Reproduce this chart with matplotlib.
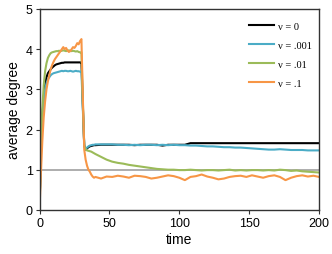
import matplotlib
matplotlib.use('Agg')
import matplotlib.pyplot as plt

# time axis: every step up to 40, then every 4 steps
t = list(range(0, 41)) + list(range(44, 201, 4))

nu0 = [0, 1.5, 2.3, 2.8, 3.1, 3.3, 3.4, 3.45, 3.5, 3.54, 3.57, 3.6, 3.62, 3.63, 3.64,
       3.65, 3.66, 3.66, 3.67, 3.67, 3.67,
       3.67, 3.67, 3.67, 3.67, 3.67, 3.67, 3.67, 3.67, 3.67, 3.67,
       2.6, 1.6, 1.5, 1.53, 1.56, 1.58, 1.59, 1.6, 1.61, 1.61,
       1.62, 1.62, 1.62, 1.62, 1.62, 1.62, 1.61, 1.62, 1.62, 1.62, 1.62, 1.6, 1.62, 1.62,
       1.62, 1.62,
       1.66, 1.66, 1.66, 1.66, 1.66, 1.66, 1.66, 1.66, 1.66, 1.66, 1.66, 1.66,
       1.66, 1.66, 1.66, 1.66, 1.66, 1.66, 1.66, 1.66, 1.66, 1.66, 1.66, 1.66]

nu001 = [0, 1.4, 2.2, 2.7, 3.0, 3.15, 3.25, 3.3, 3.35, 3.38, 3.4, 3.41, 3.42, 3.43, 3.44,
         3.45, 3.46, 3.45, 3.46, 3.46, 3.45,
         3.45, 3.46, 3.45, 3.44, 3.45, 3.46, 3.45, 3.45, 3.44, 3.45,
         2.5, 1.6, 1.52, 1.55, 1.58, 1.6, 1.61, 1.62, 1.62, 1.63,
         1.63, 1.63, 1.63, 1.62, 1.62, 1.61, 1.62, 1.61, 1.62, 1.62, 1.61, 1.62, 1.61, 1.62,
         1.61,
         1.61, 1.6, 1.6, 1.59, 1.58, 1.58, 1.57, 1.56, 1.56, 1.55, 1.55, 1.54, 1.53,
         1.52, 1.51, 1.5, 1.5, 1.51, 1.5, 1.49, 1.49, 1.49, 1.48, 1.48, 1.48]

nu01 = [0, 1.6, 2.5, 3.1, 3.45, 3.65, 3.78, 3.85, 3.9, 3.92, 3.93, 3.94, 3.95, 3.95, 3.96,
        3.95, 3.96, 3.97, 3.96, 3.95, 3.96,
        3.97, 3.96, 3.95, 3.96, 3.95, 3.94, 3.95, 3.93, 3.92, 3.92,
        2.7, 1.6, 1.5, 1.48, 1.47, 1.46, 1.45, 1.43, 1.41, 1.39,
        1.32, 1.25, 1.2, 1.17, 1.15, 1.12, 1.1, 1.08, 1.06, 1.04, 1.02, 1.01, 1.0, 1.0,
        0.99, 0.99, 1.0, 0.99, 0.98, 0.99, 0.99, 0.98, 0.99, 1.0, 0.98, 0.99, 0.98, 0.99,
        0.99, 0.98, 0.99, 0.98, 1.0, 0.99, 0.97, 0.98, 0.96, 0.95, 0.94, 0.93]

nu1 = [0, 0.9, 1.7, 2.3, 2.7, 3.0, 3.2, 3.35, 3.5, 3.6, 3.68, 3.75, 3.8, 3.85, 3.9,
       3.95, 4.0, 4.05, 4.0, 4.03, 3.97,
       3.93, 3.95, 4.0, 4.05, 4.03, 4.08, 4.15, 4.12, 4.2, 4.25,
       2.8, 1.5, 1.25, 1.1, 1.0, 0.95, 0.88, 0.83, 0.8, 0.82,
       0.78, 0.83, 0.82, 0.85, 0.83, 0.80, 0.85, 0.84, 0.82, 0.78, 0.80, 0.83, 0.86, 0.84,
       0.80, 0.74, 0.82, 0.84, 0.88, 0.83, 0.80, 0.76, 0.78, 0.82, 0.84, 0.85, 0.82, 0.86,
       0.83, 0.80, 0.84, 0.86, 0.82, 0.74, 0.80, 0.84, 0.86, 0.83, 0.85, 0.82]

labels = ['ν = 0', 'ν = .001', 'ν = .01', 'ν = .1']
colors = ['#000000', '#4bacc6', '#9bbb59', '#f79646']

plt.rcParams['font.family'] = ['Liberation Sans', 'DejaVu Sans']

fig = plt.figure(figsize=(3.32, 2.55), dpi=100)
ax = fig.add_axes([0.119, 0.173, 0.842, 0.788])

ax.axhline(1, color='#a0a0a0', lw=1.2, zorder=1)
for y, lab, c in zip([nu0, nu001, nu01, nu1], labels, colors):
    ax.plot(t, y, color=c, lw=1.5, label=lab, zorder=2)

ax.set_xlim(0, 200)
ax.set_ylim(0, 5)
ax.set_xticks([0, 50, 100, 150, 200])
ax.set_yticks([0, 1, 2, 3, 4, 5])
ax.tick_params(labelsize=9, length=3, width=0.8, colors='#333333', labelcolor='black', pad=2)
for s in ax.spines.values():
    s.set_color('#333333')
    s.set_linewidth(1.0)
ax.set_xlabel('time', fontsize=10, labelpad=2)
ax.set_ylabel('average degree', fontsize=10, labelpad=3)

leg = ax.legend(loc='upper right', bbox_to_anchor=(1.0, 0.975), frameon=False,
                prop={'family': ['Liberation Serif', 'DejaVu Serif'], 'size': 7.5},
                handlelength=2.4, labelspacing=0.95, handletextpad=0.4, borderaxespad=0.3)

fig.savefig('out.png', dpi=100)
